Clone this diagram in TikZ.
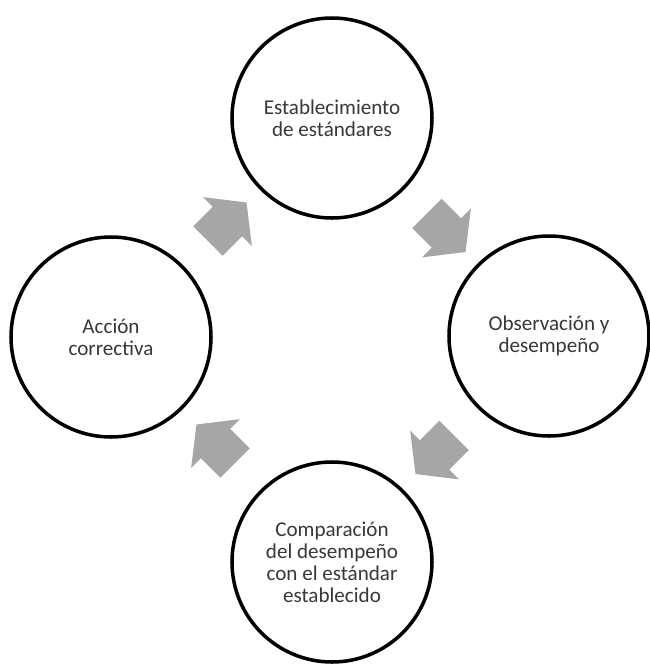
\documentclass[tikz,border=0pt]{standalone}
\usepackage{fontspec}
\setmainfont{Carlito}
\usetikzlibrary{shapes.arrows,calc}

\definecolor{cycgray}{RGB}{166,166,166}
\definecolor{cyctext}{RGB}{56,56,56}

\begin{document}
\begin{tikzpicture}
  \useasboundingbox (0,0) rectangle (13,-13.3);
  \tikzstyle{StepStyle}=[circle,draw=black,line width=2pt,fill=white,
                         minimum size=4cm,inner sep=0pt,align=center,
                         text=cyctext,font=\fontsize{12}{12.5}\selectfont]
  \tikzstyle{ArrowStyle}=[single arrow,fill=cycgray,draw=none,
                          inner xsep=0pt,inner ysep=0.41cm,
                          minimum height=1.09cm,
                          single arrow head extend=0.276cm,
                          single arrow tip angle=104]
  \node[StepStyle] (est) at (6.64,-2.36)  {Establecimiento\\de estándares};
  \node[StepStyle] (obs) at (10.98,-6.72) {Observación y\\desempeño};
  \node[StepStyle] (com) at (6.64,-11.24) {Comparación\\del desempeño\\con el estándar\\establecido};
  \node[StepStyle] (acc) at (2.22,-6.74)  {Acción\\correctiva};

  % flechas del ciclo
  \node[ArrowStyle,rotate=-45]  (f1) at ($(est)!0.5!(obs)$) {};
  \node[ArrowStyle,rotate=-135] (f2) at ($(obs)!0.5!(com)$) {};
  \node[ArrowStyle,rotate=135]  (f3) at ($(com)!0.5!(acc)$) {};
  \node[ArrowStyle,rotate=45]   (f4) at ($(acc)!0.5!(est)$) {};
\end{tikzpicture}
\end{document}
